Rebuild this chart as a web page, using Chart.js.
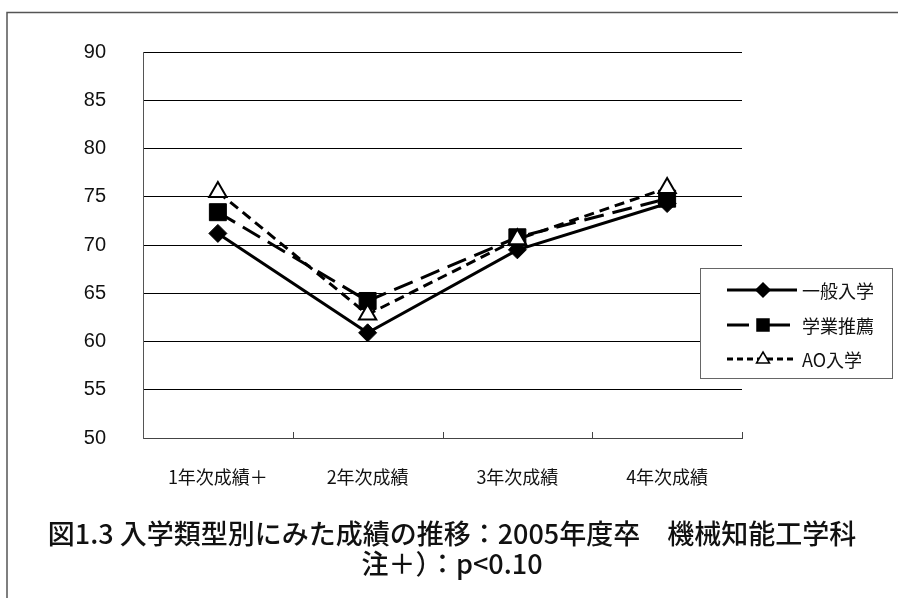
<!DOCTYPE html>
<html>
<head>
<meta charset="utf-8">
<script src="https://cdn.jsdelivr.net/npm/chart.js@4/dist/chart.umd.min.js"></script>
<style>
html,body{margin:0;padding:0;background:#fff;}
#wrap{width:898px;height:598px;position:relative;}
</style>
</head>
<body>
<div id="wrap"><canvas id="c" width="898" height="598"></canvas></div>
<script>
const categories = ['1年次成績＋', '2年次成績', '3年次成績', '4年次成績'];
const seriesNames = ['一般入学', '学業推薦', 'AO入学'];
const ippan = [71.2, 60.9, 69.5, 74.3];
const gakugyo = [73.4, 64.2, 70.8, 74.8];
const ao = [75.5, 62.8, 70.6, 75.9];
const yMin = 50, yMax = 90, yStep = 5;
const titleLines = ['図1.3 入学類型別にみた成績の推移：2005年度卒　機械知能工学科', '注＋）：p<0.10'];

const JP = '"Noto Sans CJK JP", "Noto Sans", sans-serif';

const decorPlugin = {
  id: 'decor',
  afterDraw(chart) {
    const ctx = chart.ctx;
    const xs = chart.scales.x;
    const ca = chart.chartArea;
    ctx.save();
    // outer frame (top + left)
    ctx.strokeStyle = '#555';
    ctx.lineWidth = 1.5;
    ctx.beginPath();
    ctx.moveTo(7, 598);
    ctx.lineTo(7, 12.5);
    ctx.lineTo(898, 12.5);
    ctx.stroke();
    // x axis boundary ticks (pointing up)
    const half = (xs.getPixelForTick(1) - xs.getPixelForTick(0)) / 2;
    ctx.strokeStyle = '#444';
    ctx.lineWidth = 1;
    for (let i = 0; i < categories.length; i++) {
      const px = Math.round(xs.getPixelForTick(i) + half) + 0.5;
      ctx.beginPath();
      ctx.moveTo(px, ca.bottom);
      ctx.lineTo(px, ca.bottom - 6);
      ctx.stroke();
    }
    // title
    ctx.fillStyle = '#111';
    ctx.font = '500 27px ' + JP;
    ctx.textAlign = 'center';
    ctx.textBaseline = 'middle';
    ctx.fillText(titleLines[0], 452, 534);
    ctx.fillText(titleLines[1], 452, 564);
    // legend box
    const bx = 700.5, by = 268.5, bw = 192, bh = 110;
    ctx.fillStyle = '#fff';
    ctx.fillRect(bx, by, bw, bh);
    ctx.strokeStyle = '#666';
    ctx.lineWidth = 1;
    ctx.strokeRect(bx, by, bw, bh);
    const rows = [290, 325, 359];
    chart.data.datasets.forEach((ds, i) => {
      const y = rows[i];
      ctx.strokeStyle = '#000';
      ctx.lineWidth = 3;
      ctx.setLineDash(ds.legendDash || []);
      ctx.beginPath();
      ctx.moveTo(727, y);
      ctx.lineTo(797, y);
      ctx.stroke();
      ctx.setLineDash([]);
      const mx = 763;
      ctx.lineWidth = 1.5;
      ctx.fillStyle = ds.pointBackgroundColor;
      ctx.strokeStyle = '#000';
      ctx.beginPath();
      if (ds.pointStyle === 'rectRot') {
        ctx.moveTo(mx, y - 7); ctx.lineTo(mx + 7, y); ctx.lineTo(mx, y + 7); ctx.lineTo(mx - 7, y); ctx.closePath();
      } else if (ds.pointStyle === 'rect') {
        ctx.rect(mx - 6, y - 6, 12, 12);
      } else {
        ctx.moveTo(mx, y - 7); ctx.lineTo(mx + 6.5, y + 4); ctx.lineTo(mx - 6.5, y + 4); ctx.closePath();
      }
      ctx.fill();
      ctx.stroke();
      ctx.fillStyle = '#111';
      ctx.font = '18px ' + JP;
      ctx.textAlign = 'left';
      ctx.textBaseline = 'middle';
      ctx.fillText(ds.label, 802, y + 1);
    });
    ctx.restore();
  }
};

new Chart(document.getElementById('c'), {
  type: 'line',
  data: {
    labels: categories,
    datasets: [
      {
        label: seriesNames[0], data: ippan,
        borderColor: '#000', borderWidth: 3,
        pointStyle: 'rectRot', pointRadius: 9, pointBorderWidth: 1,
        pointBackgroundColor: '#000', pointBorderColor: '#000',
        legendDash: [], order: 3
      },
      {
        label: seriesNames[1], data: gakugyo,
        borderColor: '#000', borderWidth: 3, borderDash: [20, 9],
        pointStyle: 'rect', pointRadius: 12, pointBorderWidth: 1,
        pointBackgroundColor: '#000', pointBorderColor: '#000',
        legendDash: [22, 8, 3, 8], order: 2
      },
      {
        label: seriesNames[2], data: ao,
        borderColor: '#000', borderWidth: 3, borderDash: [10, 6],
        pointStyle: 'triangle', pointRadius: 10, pointBorderWidth: 2,
        pointBackgroundColor: '#fff', pointBorderColor: '#000',
        legendDash: [6, 4], order: 1
      }
    ]
  },
  options: {
    responsive: false,
    animation: false,
    devicePixelRatio: 1,
    layout: { padding: { top: 52, right: 156, bottom: 0, left: 0 } },
    plugins: {
      legend: { display: false },
      title: { display: false },
      tooltip: { enabled: false }
    },
    elements: { line: { tension: 0 } },
    scales: {
      x: {
        offset: true,
        grid: { display: false, drawTicks: false, offset: true },
        border: { display: true, color: '#444', width: 1 },
        ticks: { color: '#111', font: { family: JP, size: 18 }, padding: 28, maxRotation: 0 },
        afterFit(s) { s.height = 160; }
      },
      y: {
        min: yMin, max: yMax,
        grid: { color: '#000', lineWidth: 1, drawTicks: false },
        border: { display: true, color: '#555', width: 1 },
        ticks: { stepSize: yStep, color: '#111', font: { family: '"Liberation Sans", Arial, sans-serif', size: 20 }, padding: 37 },
        afterFit(s) { s.width = 143; }
      }
    }
  },
  plugins: [decorPlugin]
});
</script>
</body>
</html>
